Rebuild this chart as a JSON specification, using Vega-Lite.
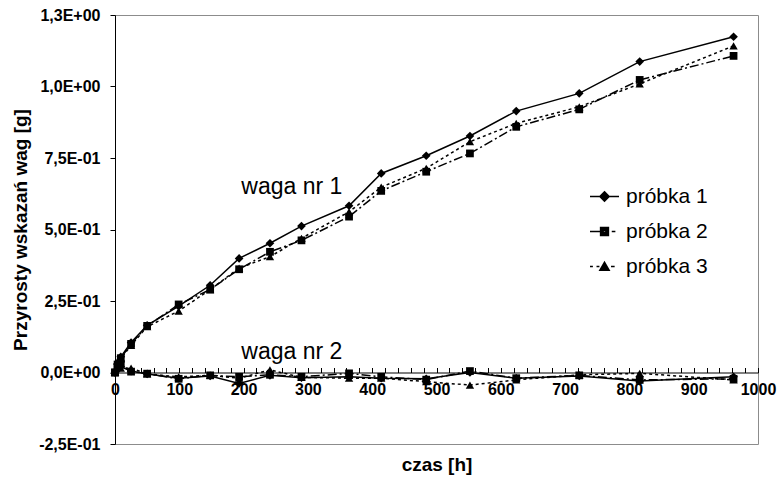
{
  "$schema": "https://vega.github.io/schema/vega-lite/v6.json",
  "width": 643,
  "height": 429,
  "autosize": "none",
  "padding": {"left": 115, "top": 15, "right": 21, "bottom": 37},
  "background": "white",
  "config": {
    "view": {"stroke": "#8c8c8c", "strokeWidth": 1},
    "font": "Liberation Sans",
    "axis": {
      "domainColor": "black",
      "domainWidth": 1,
      "tickColor": "black",
      "labelColor": "black",
      "labelFont": "Liberation Sans",
      "labelFontWeight": "bold",
      "labelFontSize": 16,
      "titleFont": "Liberation Sans",
      "titleFontSize": 19,
      "titleFontWeight": "bold",
      "titleColor": "black",
      "grid": false
    }
  },
  "datasets": {
    "pomiary": [
      {"t": 0, "v": 0, "s": "próbka 1", "w": 1},
      {"t": 4, "v": 0.03, "s": "próbka 1", "w": 1},
      {"t": 9, "v": 0.055, "s": "próbka 1", "w": 1},
      {"t": 25, "v": 0.105, "s": "próbka 1", "w": 1},
      {"t": 50, "v": 0.165, "s": "próbka 1", "w": 1},
      {"t": 99, "v": 0.232, "s": "próbka 1", "w": 1},
      {"t": 148, "v": 0.305, "s": "próbka 1", "w": 1},
      {"t": 193, "v": 0.399, "s": "próbka 1", "w": 1},
      {"t": 241, "v": 0.452, "s": "próbka 1", "w": 1},
      {"t": 290, "v": 0.512, "s": "próbka 1", "w": 1},
      {"t": 364, "v": 0.583, "s": "próbka 1", "w": 1},
      {"t": 414, "v": 0.696, "s": "próbka 1", "w": 1},
      {"t": 484, "v": 0.758, "s": "próbka 1", "w": 1},
      {"t": 552, "v": 0.827, "s": "próbka 1", "w": 1},
      {"t": 624, "v": 0.914, "s": "próbka 1", "w": 1},
      {"t": 722, "v": 0.976, "s": "próbka 1", "w": 1},
      {"t": 816, "v": 1.087, "s": "próbka 1", "w": 1},
      {"t": 962, "v": 1.174, "s": "próbka 1", "w": 1},
      {"t": 0, "v": 0, "s": "próbka 2", "w": 1},
      {"t": 4, "v": 0.028, "s": "próbka 2", "w": 1},
      {"t": 9, "v": 0.05, "s": "próbka 2", "w": 1},
      {"t": 25, "v": 0.1, "s": "próbka 2", "w": 1},
      {"t": 50, "v": 0.163, "s": "próbka 2", "w": 1},
      {"t": 99, "v": 0.238, "s": "próbka 2", "w": 1},
      {"t": 148, "v": 0.29, "s": "próbka 2", "w": 1},
      {"t": 193, "v": 0.361, "s": "próbka 2", "w": 1},
      {"t": 241, "v": 0.422, "s": "próbka 2", "w": 1},
      {"t": 290, "v": 0.462, "s": "próbka 2", "w": 1},
      {"t": 364, "v": 0.545, "s": "próbka 2", "w": 1},
      {"t": 414, "v": 0.635, "s": "próbka 2", "w": 1},
      {"t": 484, "v": 0.702, "s": "próbka 2", "w": 1},
      {"t": 552, "v": 0.766, "s": "próbka 2", "w": 1},
      {"t": 624, "v": 0.859, "s": "próbka 2", "w": 1},
      {"t": 722, "v": 0.92, "s": "próbka 2", "w": 1},
      {"t": 816, "v": 1.023, "s": "próbka 2", "w": 1},
      {"t": 962, "v": 1.107, "s": "próbka 2", "w": 1},
      {"t": 0, "v": 0, "s": "próbka 3", "w": 1},
      {"t": 4, "v": 0.025, "s": "próbka 3", "w": 1},
      {"t": 9, "v": 0.048, "s": "próbka 3", "w": 1},
      {"t": 25, "v": 0.095, "s": "próbka 3", "w": 1},
      {"t": 50, "v": 0.16, "s": "próbka 3", "w": 1},
      {"t": 99, "v": 0.215, "s": "próbka 3", "w": 1},
      {"t": 148, "v": 0.29, "s": "próbka 3", "w": 1},
      {"t": 193, "v": 0.365, "s": "próbka 3", "w": 1},
      {"t": 241, "v": 0.405, "s": "próbka 3", "w": 1},
      {"t": 290, "v": 0.469, "s": "próbka 3", "w": 1},
      {"t": 364, "v": 0.562, "s": "próbka 3", "w": 1},
      {"t": 414, "v": 0.648, "s": "próbka 3", "w": 1},
      {"t": 484, "v": 0.714, "s": "próbka 3", "w": 1},
      {"t": 552, "v": 0.807, "s": "próbka 3", "w": 1},
      {"t": 624, "v": 0.871, "s": "próbka 3", "w": 1},
      {"t": 722, "v": 0.929, "s": "próbka 3", "w": 1},
      {"t": 816, "v": 1.009, "s": "próbka 3", "w": 1},
      {"t": 962, "v": 1.142, "s": "próbka 3", "w": 1},
      {"t": 0, "v": 0, "s": "próbka 1", "w": 2},
      {"t": 4, "v": 0.01, "s": "próbka 1", "w": 2},
      {"t": 9, "v": 0.02, "s": "próbka 1", "w": 2},
      {"t": 25, "v": 0.005, "s": "próbka 1", "w": 2},
      {"t": 50, "v": -0.005, "s": "próbka 1", "w": 2},
      {"t": 99, "v": -0.02, "s": "próbka 1", "w": 2},
      {"t": 148, "v": -0.012, "s": "próbka 1", "w": 2},
      {"t": 193, "v": -0.038, "s": "próbka 1", "w": 2},
      {"t": 241, "v": -0.01, "s": "próbka 1", "w": 2},
      {"t": 290, "v": -0.018, "s": "próbka 1", "w": 2},
      {"t": 364, "v": -0.015, "s": "próbka 1", "w": 2},
      {"t": 414, "v": -0.02, "s": "próbka 1", "w": 2},
      {"t": 484, "v": -0.022, "s": "próbka 1", "w": 2},
      {"t": 552, "v": 0.0, "s": "próbka 1", "w": 2},
      {"t": 624, "v": -0.02, "s": "próbka 1", "w": 2},
      {"t": 722, "v": -0.012, "s": "próbka 1", "w": 2},
      {"t": 816, "v": -0.03, "s": "próbka 1", "w": 2},
      {"t": 962, "v": -0.015, "s": "próbka 1", "w": 2},
      {"t": 0, "v": 0, "s": "próbka 2", "w": 2},
      {"t": 4, "v": 0.02, "s": "próbka 2", "w": 2},
      {"t": 9, "v": 0.03, "s": "próbka 2", "w": 2},
      {"t": 25, "v": 0.003, "s": "próbka 2", "w": 2},
      {"t": 50, "v": -0.004, "s": "próbka 2", "w": 2},
      {"t": 99, "v": -0.022, "s": "próbka 2", "w": 2},
      {"t": 148, "v": -0.01, "s": "próbka 2", "w": 2},
      {"t": 193, "v": -0.015, "s": "próbka 2", "w": 2},
      {"t": 241, "v": -0.008, "s": "próbka 2", "w": 2},
      {"t": 290, "v": -0.015, "s": "próbka 2", "w": 2},
      {"t": 364, "v": -0.003, "s": "próbka 2", "w": 2},
      {"t": 414, "v": -0.015, "s": "próbka 2", "w": 2},
      {"t": 484, "v": -0.025, "s": "próbka 2", "w": 2},
      {"t": 552, "v": 0.005, "s": "próbka 2", "w": 2},
      {"t": 624, "v": -0.02, "s": "próbka 2", "w": 2},
      {"t": 722, "v": -0.01, "s": "próbka 2", "w": 2},
      {"t": 816, "v": -0.026, "s": "próbka 2", "w": 2},
      {"t": 962, "v": -0.022, "s": "próbka 2", "w": 2},
      {"t": 0, "v": 0, "s": "próbka 3", "w": 2},
      {"t": 4, "v": 0.04, "s": "próbka 3", "w": 2},
      {"t": 9, "v": 0.015, "s": "próbka 3", "w": 2},
      {"t": 25, "v": 0.015, "s": "próbka 3", "w": 2},
      {"t": 50, "v": -0.005, "s": "próbka 3", "w": 2},
      {"t": 99, "v": -0.015, "s": "próbka 3", "w": 2},
      {"t": 148, "v": -0.01, "s": "próbka 3", "w": 2},
      {"t": 193, "v": -0.02, "s": "próbka 3", "w": 2},
      {"t": 241, "v": 0.009, "s": "próbka 3", "w": 2},
      {"t": 290, "v": -0.017, "s": "próbka 3", "w": 2},
      {"t": 364, "v": -0.02, "s": "próbka 3", "w": 2},
      {"t": 414, "v": -0.02, "s": "próbka 3", "w": 2},
      {"t": 484, "v": -0.032, "s": "próbka 3", "w": 2},
      {"t": 552, "v": -0.044, "s": "próbka 3", "w": 2},
      {"t": 624, "v": -0.026, "s": "próbka 3", "w": 2},
      {"t": 722, "v": -0.008, "s": "próbka 3", "w": 2},
      {"t": 816, "v": -0.003, "s": "próbka 3", "w": 2},
      {"t": 962, "v": -0.026, "s": "próbka 3", "w": 2}
    ],
    "opisy": [
      {"t": 275, "v": 0.649, "label": "waga nr 1"},
      {"t": 275, "v": 0.072, "label": "waga nr 2"}
    ]
  },
  "encoding": {
    "x": {
      "field": "t",
      "type": "quantitative",
      "scale": {"domain": [0, 1000], "nice": false, "zero": false},
      "axis": {
        "title": "czas [h]",
        "offset": -71.5,
        "values": [0,20,40,60,80,100,120,140,160,180,200,220,240,260,280,300,320,340,360,380,400,420,440,460,480,500,520,540,560,580,600,620,640,660,680,700,720,740,760,780,800,820,840,860,880,900,920,940,960,980,1000],
        "format": "d",
        "labelExpr": "datum.value % 100 === 0 ? datum.label : ''",
        "labelOverlap": false,
        "labelFlush": false,
        "tickSize": -5,
        "labelPadding": 14,
        "titlePadding": 58
      }
    },
    "y": {
      "field": "v",
      "type": "quantitative",
      "scale": {"domain": [-0.25, 1.25], "nice": false, "zero": false},
      "axis": {
        "title": "Przyrosty wskazań wag [g]",
        "values": [-0.25, 0, 0.25, 0.5, 0.75, 1, 1.25],
        "labelExpr": "replace(replace(replace(replace(format(datum.value, '.1e'), '.', ','), 'e+', 'E+0'), 'e-', 'E-0'), '\u2212', '-')",
        "tickSize": 5,
        "labelPadding": 10,
        "titlePadding": 8
      }
    }
  },
  "layer": [
    {
      "data": {"name": "pomiary"},
      "transform": [{"filter": "datum.s === 'próbka 1'"}],
      "mark": {"type": "line", "color": "black", "strokeWidth": 1.5},
      "encoding": {"detail": {"field": "w"}}
    },
    {
      "data": {"name": "pomiary"},
      "transform": [{"filter": "datum.s === 'próbka 2'"}],
      "mark": {"type": "line", "color": "black", "strokeWidth": 1.5, "strokeDash": [9, 3, 2, 3]},
      "encoding": {"detail": {"field": "w"}}
    },
    {
      "data": {"name": "pomiary"},
      "transform": [{"filter": "datum.s === 'próbka 3'"}],
      "mark": {"type": "line", "color": "black", "strokeWidth": 1.5, "strokeDash": [3, 3]},
      "encoding": {"detail": {"field": "w"}}
    },
    {
      "data": {"name": "pomiary"},
      "transform": [{"filter": "datum.s === 'próbka 1'"}],
      "mark": {"type": "point", "shape": "diamond", "filled": true, "color": "black", "opacity": 1, "size": 75}
    },
    {
      "data": {"name": "pomiary"},
      "transform": [{"filter": "datum.s === 'próbka 2'"}],
      "mark": {"type": "point", "shape": "square", "filled": true, "color": "black", "opacity": 1, "size": 60}
    },
    {
      "data": {"name": "pomiary"},
      "transform": [{"filter": "datum.s === 'próbka 3'"}],
      "mark": {"type": "point", "shape": "triangle-up", "filled": true, "color": "black", "opacity": 1, "size": 70}
    },
    {
      "data": {"name": "pomiary"},
      "mark": {"type": "point", "filled": false, "color": "black", "opacity": 0, "size": 10},
      "encoding": {
        "shape": {
          "field": "s",
          "type": "nominal",
          "scale": {
            "domain": ["próbka 1", "próbka 2", "próbka 3"],
            "range": [
              "M-1,0H1M0,-0.32L0.32,0L0,0.32L-0.32,0ZM0,-0.23L0.23,0L0,0.23L-0.23,0ZM0,-0.14L0.14,0L0,0.14L-0.14,0ZM0,-0.05L0.05,0L0,0.05L-0.05,0Z",
              "M-1,0H-0.28M0.5,0H0.75M-0.27,-0.27H0.27V0.27H-0.27ZM-0.18,-0.18H0.18V0.18H-0.18ZM-0.09,-0.09H0.09V0.09H-0.09ZM-0.02,0H0.02",
              "M-1,0H-0.8M-0.55,0H-0.35M0.45,0H0.7M-0.32,0.25L0.32,0.25L0,-0.3ZM-0.224,0.195L0.224,0.195L0,-0.19ZM-0.128,0.14L0.128,0.14L0,-0.08ZM-0.04,0.09L0.04,0.09L0,0.02Z"
            ]
          },
          "legend": {
            "title": null,
            "orient": "none",
            "legendX": 474,
            "legendY": 166,
            "padding": 0,
            "labelFont": "Liberation Sans",
            "labelFontSize": 21,
            "labelColor": "black",
            "labelOffset": 6,
            "rowPadding": 9,
            "symbolSize": 841,
            "symbolStrokeWidth": 1.5,
            "symbolStrokeColor": "black",
            "symbolOpacity": 1
          }
        }
      }
    },
    {
      "data": {"name": "opisy"},
      "mark": {"type": "text", "font": "Liberation Sans", "fontSize": 23, "color": "black", "align": "center", "baseline": "middle"},
      "encoding": {
        "text": {"field": "label"}
      }
    }
  ]
}
